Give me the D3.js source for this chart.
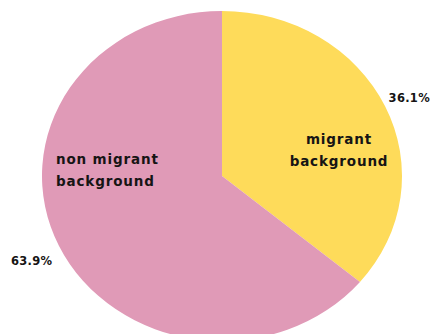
<!DOCTYPE html>
<html><head><meta charset="utf-8">
<script src="https://cdn.jsdelivr.net/npm/d3@7"></script>
<style>
html,body{margin:0;padding:0;background:#fff;}
svg{display:block;}
text{font-family:"DejaVu Sans",sans-serif;font-weight:bold;fill:#161414;}
</style></head>
<body>
<svg id="chart" width="430" height="334"></svg>
<script>
const categories = ["migrant background", "non migrant background"];
const categoryLines = [["migrant", "background"], ["non migrant", "background"]];
const values = [36.1, 63.9];
const percentLabels = ["36.1%", "63.9%"];
const colors = ["#FEDB5A", "#E09AB7"];

const svg = d3.select("#chart");
const cx = 222, cy = 176, rx = 180, ry = 165;

const pie = d3.pie().sort(null).value(d => d)(values);
const arc = d3.arc().innerRadius(0).outerRadius(rx);

const g = svg.append("g").attr("transform", `translate(${cx},${cy}) scale(1,${ry/rx})`);
g.selectAll("path").data(pie).join("path")
  .attr("d", arc)
  .attr("fill", (d,i) => colors[i]);

// category labels
const labelLayout = [
  {x:339, y:144, anchor:"middle"},
  {x:56, y:164, anchor:"start"}
];
labelLayout.forEach((L,i) => {
  const t = svg.append("text")
    .attr("text-anchor", L.anchor)
    .style("font-size","13.5px")
    .style("letter-spacing","0.85px");
  categoryLines[i].forEach((ln,j) => {
    t.append("tspan").attr("x", L.x).attr("y", L.y + j*21.5).text(ln);
  });
});

// percent labels
const pctLayout = [
  {x:430, y:102, anchor:"end"},
  {x:11, y:265, anchor:"start"}
];
pctLayout.forEach((P,i) => {
  svg.append("text")
    .attr("x", P.x).attr("y", P.y)
    .attr("text-anchor", P.anchor)
    .style("font-size","11.5px")
    .style("letter-spacing","0.3px")
    .text(percentLabels[i]);
});
</script>
</body></html>
